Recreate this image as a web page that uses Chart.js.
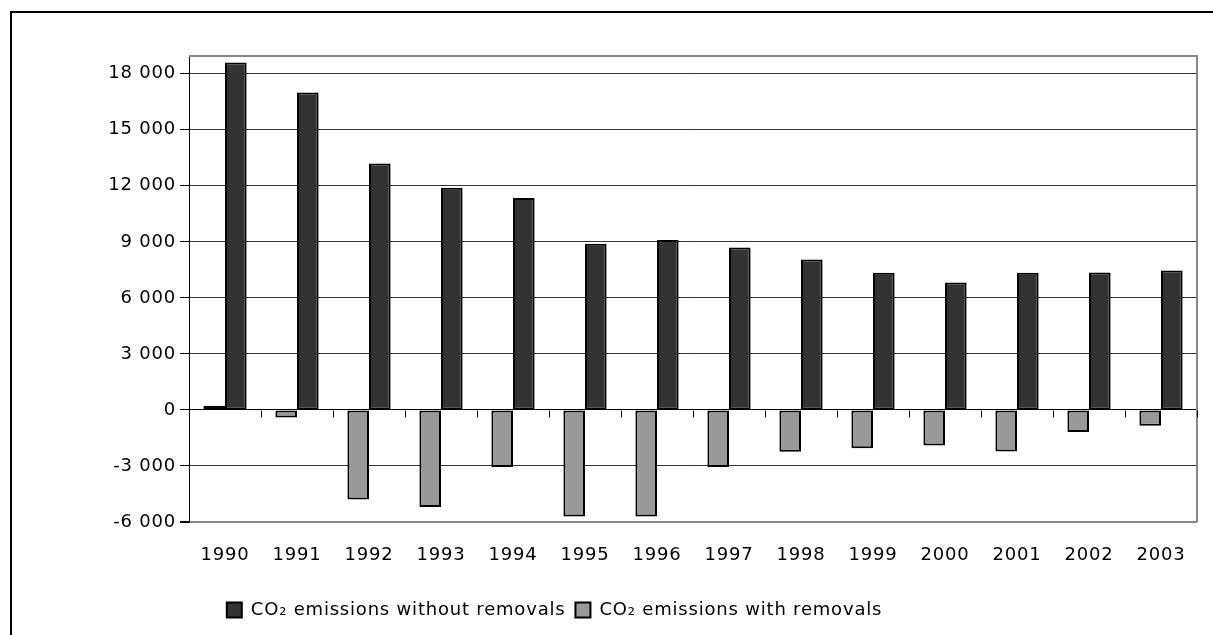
<!DOCTYPE html>
<html>
<head>
<meta charset="utf-8">
<script src="https://cdn.jsdelivr.net/npm/chart.js@4"></script>
<style>
  html, body { margin: 0; padding: 0; background: #fff; }
  #wrap { width: 1213px; height: 635px; position: relative; }
</style>
</head>
<body>
<div id="wrap"><canvas id="chart"></canvas></div>
<script>
// Data
const years = ['1990', '1991', '1992', '1993', '1994', '1995', '1996', '1997', '1998', '1999', '2000', '2001', '2002', '2003'];
const withoutRemovals = [18600, 17000, 13200, 11900, 11350, 8900, 9100, 8700, 8050, 7350, 6820, 7340, 7360, 7470];
const withRemovals = [220, -400, -4800, -5200, -3050, -5710, -5710, -3050, -2240, -2050, -1900, -2220, -1180, -850];
const yTicks = [-6000, -3000, 0, 3000, 6000, 9000, 12000, 15000, 18000];

const FONT = { family: '"DejaVu Sans", sans-serif', size: 18 };

const fmt = (v) => {
  const s = String(Math.abs(v)).replace(/\B(?=(\d{3})+(?!\d))/g, ' ');
  return (v < 0 ? '-' : '') + s;
};

// letter spacing, page frame, plot frame, zero-line ticks
const decor = {
  id: 'decor',
  beforeUpdate(chart) { chart.ctx.letterSpacing = '0.8px'; },
  afterLayout(chart) {
    // legend sits a bit left of centre in the reference
    chart.legend.left -= 44;
    chart.legend.right -= 44;
  },
  beforeDraw(chart) {
    const ctx = chart.ctx;
    ctx.letterSpacing = '0.8px';
    ctx.save();
    ctx.strokeStyle = '#000';
    ctx.lineWidth = 2;
    ctx.beginPath();
    ctx.moveTo(11, 640);
    ctx.lineTo(11, 12);
    ctx.lineTo(1220, 12);
    ctx.stroke();
    ctx.restore();
  },
  beforeDatasetsDraw(chart) {
    const { ctx, chartArea: a, scales } = chart;
    ctx.save();
    ctx.strokeStyle = '#888';
    ctx.lineWidth = 2;
    ctx.beginPath();
    ctx.moveTo(a.left, a.top);
    ctx.lineTo(a.right, a.top);
    ctx.lineTo(a.right, a.bottom);
    ctx.stroke();
    // category boundary ticks on the zero line
    const y0 = Math.round(scales.y.getPixelForValue(0)) + 0.5;
    const half = (scales.x.getPixelForTick(1) - scales.x.getPixelForTick(0)) / 2;
    ctx.strokeStyle = '#000';
    ctx.lineWidth = 1;
    ctx.beginPath();
    for (let i = 0; i < years.length; i++) {
      const xb = Math.round(scales.x.getPixelForTick(i) + half) + 0.5;
      ctx.moveTo(xb, y0);
      ctx.lineTo(xb, y0 + 7);
    }
    ctx.stroke();
    ctx.restore();
  }
};

new Chart(document.getElementById('chart'), {
  type: 'bar',
  data: {
    labels: years,
    datasets: [
      {
        label: 'CO₂ emissions with removals',
        data: withRemovals,
        backgroundColor: '#999999',
        borderColor: '#000',
        borderWidth: 2,
        borderSkipped: false
      },
      {
        label: 'CO₂ emissions without removals',
        data: withoutRemovals,
        backgroundColor: '#333333',
        borderColor: '#000',
        borderWidth: 2,
        borderSkipped: false
      }
    ]
  },
  options: {
    responsive: true,
    maintainAspectRatio: false,
    animation: false,
    datasets: { bar: { categoryPercentage: 0.6, barPercentage: 1.0 } },
    layout: { padding: { left: 0, right: 16, top: 56, bottom: 6 } },
    plugins: {
      tooltip: { enabled: false },
      legend: {
        position: 'bottom',
        reverse: true,
        labels: {
          boxWidth: 15,
          boxHeight: 15,
          padding: 10,
          color: '#000',
          font: FONT
        }
      }
    },
    scales: {
      x: {
        grid: { display: false, drawTicks: false },
        border: { display: false },
        ticks: { color: '#000', font: FONT, padding: 23, maxRotation: 0, autoSkip: false },
        afterFit(scale) { scale.height = 69; }
      },
      y: {
        min: -6000,
        max: 18950,
        afterBuildTicks(scale) { scale.ticks = yTicks.map(v => ({ value: v })); },
        afterFit(scale) { scale.width = 189; },
        grid: {
          color: (c) => c.tick && c.tick.value === 0 ? '#000' : (c.tick && c.tick.value === -6000 ? '#888' : '#333'),
          lineWidth: (c) => c.tick && c.tick.value === -6000 ? 2 : 1,
          tickColor: '#000',
          tickLength: 9
        },
        border: { display: true, color: '#000', width: 1 },
        ticks: { color: '#000', font: FONT, padding: 4, callback: (v) => fmt(v) }
      }
    }
  },
  plugins: [decor]
});
</script>
</body>
</html>
